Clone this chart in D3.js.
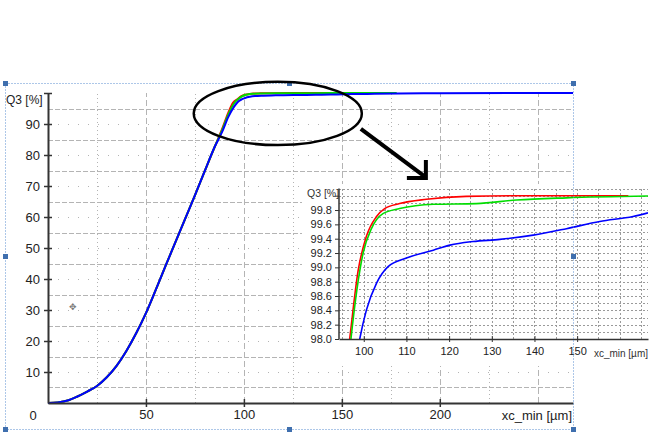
<!DOCTYPE html>
<html>
<head>
<meta charset="utf-8">
<script src="https://cdn.jsdelivr.net/npm/d3@7"></script>
<style>
  body { margin: 0; background: #fff; }
  text { font-family: "Liberation Sans", Arial, sans-serif; fill: #222; }
</style>
</head>
<body>
<div id="chart-area"></div>
<script>
// Q3 curves: [xc_min, Q3]
// shared lower part of the three curves, they overlap up to ~85 µm
var basePts = [[0,0],[5,0.2],[10,0.8],[15,2.1],[20,3.7],[25,5.5],[30,8.3],[35,12],[40,16.8],
    [45,22.5],[50,29],[55,36.5],[60,44.2],[65,51.8],[70,59.4],[75,67],[80,74.8],[85,82.5]];
var redTail = [[89,88.6],[92,93.6],[94.5,96.9],[96.7,98.0],[98.7,98.96],[100.6,99.43],[103,99.71],
    [104.9,99.82],[108.4,99.89],[114.7,99.95],[124,99.99],[139.7,100],[162,100]];
var greenTail = [[89,88.2],[92,93],[95,96.7],[97,98.0],[99.85,99.2],[101.8,99.54],[104.5,99.75],
    [108.4,99.82],[116.3,99.88],[126.4,99.89],[135.8,99.94],[147.5,99.97],[166.6,99.995],[178,100]];
var blueTail = [[89,87.6],[92,92.2],[95,95.6],[97,97.2],[99.06,98.0],[100.6,98.4],[103,98.78],
    [105.7,99.01],[110,99.13],[116.3,99.24],[120.2,99.31],[125.6,99.36],[131.9,99.39],
    [139.7,99.45],[147.5,99.54],[155.3,99.64],[163.1,99.71],[166.6,99.76],[200,99.93],[268,99.98]];

var seriesNames = ["red", "green", "blue"];
var seriesColors = ["#ff0000", "#00dd00", "#0000ff"];
var seriesData = [basePts.concat(redTail), basePts.concat(greenTail), basePts.concat(blueTail)];

var mainXTicks = [50, 100, 150, 200];
var mainYTicks = [10, 20, 30, 40, 50, 60, 70, 80, 90];
var insetXTicks = [100, 110, 120, 130, 140, 150];
var insetYTicks = [98.0, 98.2, 98.4, 98.6, 98.8, 99.0, 99.2, 99.4, 99.6, 99.8];

var W = 656, H = 437;
var svg = d3.select("#chart-area").append("svg")
    .attr("width", W).attr("height", H);

// ---------- main chart ----------
var x = d3.scaleLinear().domain([0, 268]).range([48, 573]);
var y = d3.scaleLinear().domain([0, 100]).range([403, 93]);

var grid = svg.append("g").attr("stroke", "#b4b4b4").attr("stroke-width", 1);
d3.range(5, 100, 5).forEach(function(v){
    grid.append("line")
        .attr("x1", x(0)).attr("x2", x(268))
        .attr("y1", Math.round(y(v)) + 0.5).attr("y2", Math.round(y(v)) + 0.5)
        .attr("stroke-dasharray", v % 10 == 0 ? "1,9" : "5,2");
});
d3.range(25, 268, 25).forEach(function(v){
    grid.append("line")
        .attr("x1", Math.round(x(v)) + 0.5).attr("x2", Math.round(x(v)) + 0.5)
        .attr("y1", y(0)).attr("y2", y(100))
        .attr("stroke-dasharray", v % 50 == 0 ? "6,3" : "1,3");
});

var line = d3.line()
    .x(function(d){ return x(d[0]); })
    .y(function(d){ return y(d[1]); })
    .curve(d3.curveMonotoneX);

seriesData.forEach(function(s, i){
    svg.append("path")
        .attr("class", "line " + seriesNames[i])
        .attr("fill", "none")
        .attr("stroke", seriesColors[i])
        .attr("stroke-width", 2)
        .attr("d", line(s));
});

// axes
var yAxisCall = d3.axisLeft(y).tickValues(mainYTicks.concat([100])).tickSize(0)
    .tickFormat(function(d){ return d == 100 ? "" : d; });
var yAxis = svg.append("g").attr("transform", "translate(" + x(0) + ",0)").call(yAxisCall);
yAxis.select(".domain").attr("stroke", "#333").attr("stroke-width", 2);
yAxis.selectAll(".tick text").attr("x", -8).attr("font-size", "13px").attr("fill", "#222");
yAxis.selectAll(".tick line").attr("x1", -4).attr("x2", 4).attr("stroke", "#333").attr("stroke-width", 1.5);

var xAxisCall = d3.axisBottom(x).tickValues(mainXTicks).tickSize(0);
var xAxis = svg.append("g").attr("transform", "translate(0," + y(0) + ")").call(xAxisCall);
xAxis.select(".domain").attr("stroke", "#333").attr("stroke-width", 2);
xAxis.selectAll(".tick text").attr("y", 7).attr("font-size", "13px").attr("fill", "#222");
xAxis.selectAll(".tick line").attr("y1", -4).attr("y2", 4).attr("stroke", "#333").attr("stroke-width", 1.5);

svg.append("text").attr("x", 33).attr("y", 420).attr("text-anchor", "middle")
    .attr("font-size", "13px").text("0");
svg.append("text").attr("x", 572).attr("y", 420).attr("text-anchor", "end")
    .attr("font-size", "13px").text("xc_min [µm]");
svg.append("text").attr("x", 6).attr("y", 104).attr("font-size", "12px").text("Q3 [%]");

// cursor glyph
svg.append("text").attr("x", 69).attr("y", 310).attr("font-size", "9px")
    .style("fill", "#777").text("✥");

// ---------- inset (zoom of the top) ----------
var inset = svg.append("g");
inset.append("rect").attr("x", 302).attr("y", 184).attr("width", W - 302).attr("height", 182)
    .attr("fill", "#fff");

var ix = d3.scaleLinear().domain([94.2, 166.6]).range([339, 648]);
var iy = d3.scaleLinear().domain([98.0, 100.0]).range([339, 195.7]);

var igrid = inset.append("g").attr("stroke", "#9a9a9a").attr("stroke-width", 1)
    .attr("stroke-dasharray", "2,2");
d3.range(981, 1002, 1).forEach(function(k){
    var v = k / 10;
    igrid.append("line")
        .attr("x1", ix(94.2)).attr("x2", ix(166.6))
        .attr("y1", Math.round(iy(v)) + 0.5).attr("y2", Math.round(iy(v)) + 0.5);
});
d3.range(95, 167, 5).forEach(function(v){
    igrid.append("line")
        .attr("x1", Math.round(ix(v)) + 0.5).attr("x2", Math.round(ix(v)) + 0.5)
        .attr("y1", iy(98.0)).attr("y2", iy(100.1));
});

inset.append("clipPath").attr("id", "inset-clip")
    .append("rect").attr("x", ix(94.2)).attr("y", iy(100.12))
    .attr("width", ix(166.6) - ix(94.2)).attr("height", iy(98.0) - iy(100.12));

var iline = d3.line()
    .x(function(d){ return ix(d[0]); })
    .y(function(d){ return iy(d[1]); })
    .curve(d3.curveMonotoneX);

seriesData.forEach(function(s, i){
    inset.append("path")
        .attr("clip-path", "url(#inset-clip)")
        .attr("fill", "none")
        .attr("stroke", seriesColors[i])
        .attr("stroke-width", 1.6)
        .attr("d", iline(s.filter(function(d){ return d[0] >= 94 && d[0] <= 167; })));
});

var iyAxis = inset.append("g").attr("transform", "translate(" + ix(94.2) + ",0)")
    .call(d3.axisLeft(iy).tickValues(insetYTicks.concat([100])).tickSize(4)
        .tickFormat(function(d){ return d == 100 ? "" : d3.format(".1f")(d); }));
iyAxis.select(".domain").attr("d", "M0," + iy(98.0) + "V" + iy(100.1)).attr("stroke", "#333").attr("stroke-width", 1.5);
iyAxis.selectAll(".tick text").attr("font-size", "11px").attr("fill", "#333");
iyAxis.selectAll(".tick line").attr("stroke", "#333");

var ixAxis = inset.append("g").attr("transform", "translate(0," + iy(98.0) + ")")
    .call(d3.axisBottom(ix).tickValues(insetXTicks).tickSize(0));
ixAxis.select(".domain").attr("stroke", "#333").attr("stroke-width", 1.5);
ixAxis.selectAll(".tick text").attr("y", 8).attr("font-size", "11px").attr("fill", "#333");
ixAxis.selectAll(".tick line").attr("y1", -3).attr("y2", 3).attr("stroke", "#333");

inset.append("text").attr("x", 648).attr("y", 357).attr("text-anchor", "end")
    .attr("font-size", "10px").style("fill", "#333").text("xc_min [µm]");
inset.append("text").attr("x", 307).attr("y", 197).attr("font-size", "10.5px")
    .style("fill", "#333").text("Q3 [%]");

// ---------- selection frame ----------
var frame = { x0: 5, y0: 83, x1: 573, y1: 429 };
svg.append("rect").attr("x", frame.x0 + 0.5).attr("y", frame.y0 + 0.5)
    .attr("width", frame.x1 - frame.x0).attr("height", frame.y1 - frame.y0)
    .attr("fill", "none").attr("stroke", "#5b8fd0").attr("stroke-width", 1)
    .attr("stroke-dasharray", "1,2");
var hx = [frame.x0, (frame.x0 + frame.x1) / 2, frame.x1];
var hy = [frame.y0, (frame.y0 + frame.y1) / 2, frame.y1];
hx.forEach(function(a, i){
    hy.forEach(function(b, j){
        if (i == 1 && j == 1) return;
        svg.append("rect").attr("x", a - 2).attr("y", b - 2)
            .attr("width", 5).attr("height", 5).attr("fill", "#3f6fae");
    });
});

// ---------- annotation: ellipse + arrow ----------
svg.append("ellipse")
    .attr("cx", x(117.3)).attr("cy", y(93.4))
    .attr("rx", x(42.9) - x(0)).attr("ry", y(0) - y(10.2))
    .attr("fill", "none").attr("stroke", "#000").attr("stroke-width", 2.5);

var tip = [x(192.9), y(72.6)];
svg.append("line")
    .attr("x1", x(159.7)).attr("y1", y(88.4))
    .attr("x2", tip[0] - 2).attr("y2", tip[1] - 2)
    .attr("stroke", "#000").attr("stroke-width", 4);
svg.append("path")
    .attr("d", "M" + (tip[0] - 19) + "," + tip[1] + "L" + tip[0] + "," + tip[1] + "L" + tip[0] + "," + (tip[1] - 18))
    .attr("fill", "none").attr("stroke", "#000").attr("stroke-width", 4)
    .attr("stroke-linejoin", "miter");
</script>
</body>
</html>
